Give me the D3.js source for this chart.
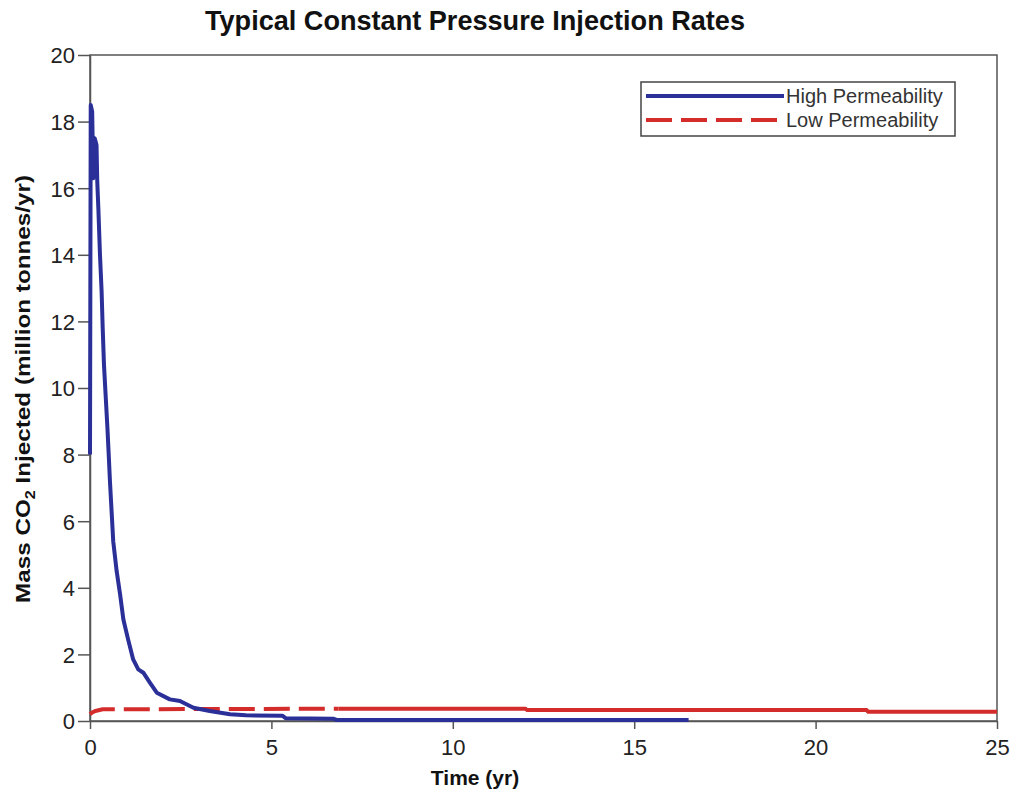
<!DOCTYPE html>
<html>
<head>
<meta charset="utf-8">
<script src="https://cdn.jsdelivr.net/npm/d3@7"></script>
<style>
  html, body { margin: 0; padding: 0; background: #fff; }
  svg { display: block; font-family: "Liberation Sans", Arial, sans-serif; }
</style>
</head>
<body>
<svg id="chart" width="1016" height="794"></svg>
<script>
// ---- Data ----
const title = "Typical Constant Pressure Injection Rates";
const xLabel = "Time (yr)";
const seriesNames = ["High Permeability", "Low Permeability"];
const xTicks = [0, 5, 10, 15, 20, 25];
const yTicks = [0, 2, 4, 6, 8, 10, 12, 14, 16, 18, 20];

// High permeability: time (yr) and rate (million tonnes/yr)
const highTime = [0, 0.02, 0.06, 0.09, 0.13, 0.18, 0.2, 0.23, 0.275, 0.32, 0.35, 0.385, 0.43, 0.48, 0.52, 0.55, 0.64, 0.735, 0.83, 0.92, 1.05, 1.19, 1.33, 1.47, 1.65, 1.84, 2.2, 2.48, 2.85, 3.3, 3.86, 4.3, 5.3, 5.4, 6.7, 6.8, 16.5];
const highRate = [8.0, 18.5, 18.3, 16.3, 17.5, 17.3, 16.2, 15.4, 14.0, 12.9, 11.8, 10.7, 9.8, 8.8, 7.9, 7.2, 5.4, 4.5, 3.8, 3.05, 2.45, 1.85, 1.55, 1.45, 1.15, 0.85, 0.65, 0.6, 0.4, 0.3, 0.2, 0.17, 0.16, 0.08, 0.07, 0.03, 0.03];

// Low permeability
const lowTime = [0, 0.05, 0.15, 0.35, 6.85, 12.0, 12.05, 21.4, 21.45, 25];
const lowRate = [0.2, 0.25, 0.3, 0.35, 0.37, 0.37, 0.33, 0.33, 0.28, 0.28];

// ---- Layout ----
const svg = d3.select("#chart");
const W = 1016, H = 794;
const margin = { top: 55, right: 19, bottom: 73, left: 90 };
const iw = W - margin.left - margin.right;
const ih = H - margin.top - margin.bottom;

const x = d3.scaleLinear().domain([0, 25]).range([0, iw]);
const y = d3.scaleLinear().domain([0, 20]).range([ih, 0]);

const g = svg.append("g").attr("transform", `translate(${margin.left},${margin.top})`);

const axisColor = "#555";
const blue = "#2b2f98";
const red = "#d42b2b";

// Frame (top & right)
g.append("rect").attr("x", 0).attr("y", 0).attr("width", iw).attr("height", ih)
  .attr("fill", "none").attr("stroke", axisColor).attr("stroke-width", 1.5);

// Axes
const xAxis = g.append("g").attr("transform", `translate(0,${ih})`)
  .call(d3.axisBottom(x).tickValues(xTicks).tickSize(8).tickSizeOuter(0).tickPadding(10));
const yAxis = g.append("g")
  .call(d3.axisLeft(y).tickValues(yTicks).tickSize(12).tickSizeOuter(0).tickPadding(3));

[xAxis, yAxis].forEach(a => {
  a.select(".domain").attr("stroke", axisColor).attr("stroke-width", 1.5);
  a.selectAll(".tick line").attr("stroke", axisColor).attr("stroke-width", 1.5);
  a.selectAll(".tick text")
    .attr("font-family", "Liberation Sans, Arial, sans-serif")
    .attr("font-size", 22).attr("fill", "#222");
});
yAxis.selectAll(".tick text").attr("dy", "0.36em");

// Lines
const line = d3.line().x(d => x(d[0])).y(d => y(d[1]));

const highData = highTime.map((t, i) => [t, highRate[i]]);
const lowData = lowTime.map((t, i) => [t, lowRate[i]]);
const dashEnd = 6.85;
const lowDashed = lowData.filter(d => d[0] <= dashEnd);
const lowSolid = lowData.filter(d => d[0] >= dashEnd);

g.append("path").datum(lowDashed).attr("d", line)
  .attr("fill", "none").attr("stroke", red).attr("stroke-width", 4)
  .attr("stroke-dasharray", "26,9");
g.append("path").datum(lowSolid).attr("d", line)
  .attr("fill", "none").attr("stroke", red).attr("stroke-width", 4);

g.append("path").datum(highData).attr("d", line)
  .attr("fill", "none").attr("stroke", blue).attr("stroke-width", 4)
  .attr("stroke-linejoin", "round");

// Title
svg.append("text")
  .attr("x", 475).attr("y", 30).attr("text-anchor", "middle")
  .attr("font-size", 28).attr("font-weight", "bold").attr("fill", "#111")
  .attr("textLength", 540).attr("lengthAdjust", "spacingAndGlyphs")
  .text(title);

// X label
svg.append("text")
  .attr("x", 475).attr("y", 785).attr("text-anchor", "middle")
  .attr("font-size", 21).attr("font-weight", "bold").attr("fill", "#111")
  .text(xLabel);

// Y label with subscript
const yl = svg.append("text")
  .attr("transform", `translate(30,389) rotate(-90)`)
  .attr("text-anchor", "middle")
  .attr("font-size", 21).attr("font-weight", "bold").attr("fill", "#111")
  .attr("textLength", 428).attr("lengthAdjust", "spacingAndGlyphs");
yl.append("tspan").text("Mass CO");
yl.append("tspan").attr("font-size", 14).attr("dy", 5).text("2");
yl.append("tspan").attr("dy", -5).text(" Injected (million tonnes/yr)");

// Legend
const lg = svg.append("g").attr("transform", "translate(641,82)");
lg.append("rect").attr("x", 0).attr("y", 0).attr("width", 314).attr("height", 54)
  .attr("fill", "#fff").attr("stroke", "#444").attr("stroke-width", 1.5);
const legendColors = [blue, red];
const legendDash = [null, "26,9"];
seriesNames.forEach((name, i) => {
  const yy = 14 + i * 24;
  lg.append("line").attr("x1", 5).attr("x2", 143).attr("y1", yy).attr("y2", yy)
    .attr("stroke", legendColors[i]).attr("stroke-width", 4)
    .attr("stroke-dasharray", legendDash[i]);
  lg.append("text").attr("x", 145).attr("y", yy).attr("dy", "0.36em")
    .attr("font-size", 20).attr("fill", "#333").text(name);
});
</script>
</body>
</html>
